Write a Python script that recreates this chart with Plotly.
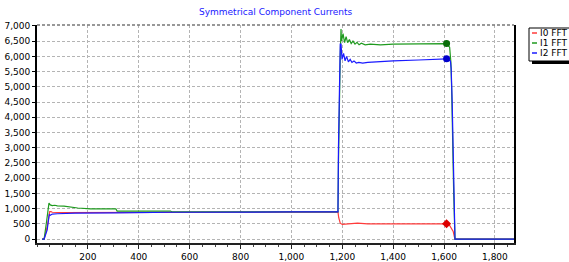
import plotly.graph_objects as go

# ---------------- data ----------------
series_names = ["I0 FFT", "I1 FFT", "I2 FFT"]

i0_x = [20, 28, 40, 45, 50, 55, 60, 100, 200, 300, 540, 1000, 1183, 1186, 1188, 1192, 1200,
        1230, 1260, 1300, 1400, 1500, 1610, 1622, 1630, 1636, 1640, 1643, 1875]
i0_y = [0, 0, 400, 700, 900, 900, 880, 870, 870, 870, 880, 890, 890, 700, 600, 520, 480,
        510, 520, 500, 500, 500, 500, 450, 350, 250, 100, 0, 0]

i1_x = [20, 28, 38, 44, 47, 52, 60, 70, 80, 106, 130, 160, 210, 310, 315, 525, 530, 1000,
        1183, 1185, 1188, 1192, 1195, 1197, 1203, 1209, 1215, 1221, 1228, 1235, 1242,
        1250, 1258, 1266, 1275, 1290, 1310, 1350, 1400, 1450, 1500, 1610, 1622, 1627,
        1630, 1633, 1638, 1643, 1875]
i1_y = [0, 0, 600, 1000, 1180, 1120, 1100, 1110, 1090, 1080, 1050, 1020, 990, 990, 920,
        920, 890, 890, 890, 2500, 4500, 6000, 6900, 6500, 6750, 6450, 6650, 6450, 6550,
        6420, 6500, 6400, 6460, 6380, 6430, 6380, 6400, 6380, 6400, 6400, 6420, 6420,
        6300, 5800, 4900, 3000, 1500, 0, 0]

i2_x = [20, 28, 40, 44, 48, 52, 60, 80, 100, 150, 300, 540, 1000, 1183, 1185, 1188, 1192,
        1195, 1199, 1205, 1211, 1217, 1224, 1231, 1238, 1246, 1255, 1265, 1280, 1300,
        1330, 1400, 1500, 1610, 1625, 1628, 1632, 1636, 1640, 1643, 1875]
i2_y = [0, 0, 300, 600, 800, 780, 820, 830, 840, 850, 860, 880, 890, 890, 3000, 5500,
        6400, 6400, 5900, 6100, 5850, 6000, 5820, 5900, 5800, 5850, 5780, 5800, 5780,
        5800, 5820, 5850, 5880, 5920, 5850, 5600, 4500, 3000, 1200, 0, 0]

marker_x = [1610]
marker_y = {"I0 FFT": [500], "I1 FFT": [6420], "I2 FFT": [5920]}

y_ticks = list(range(0, 7001, 500))
x_ticks = list(range(200, 1801, 200))

# ---------------- styling ----------------
line_colors = {"I0 FFT": "#ff3b3b", "I1 FFT": "#1f9a1f", "I2 FFT": "#1a1aff"}
marker_colors = {"I0 FFT": "#dd0000", "I1 FFT": "#0b6e0b", "I2 FFT": "#0000cc"}
marker_symbols = {"I0 FFT": "diamond", "I1 FFT": "circle", "I2 FFT": "circle"}
FONT = "DejaVu Sans"

fig = go.Figure()
for name, xs, ys in [("I0 FFT", i0_x, i0_y), ("I1 FFT", i1_x, i1_y), ("I2 FFT", i2_x, i2_y)]:
    fig.add_trace(go.Scatter(x=xs, y=ys, mode="lines", name=name,
                             line=dict(color=line_colors[name], width=1.2),
                             showlegend=False, hoverinfo="skip"))
for name in series_names:
    fig.add_trace(go.Scatter(x=marker_x, y=marker_y[name], mode="markers",
                             marker=dict(color=marker_colors[name], size=7,
                                         symbol=marker_symbols[name],
                                         line=dict(width=0)),
                             showlegend=False, hoverinfo="skip"))

W, H = 569, 262
L, R, T, B = 37, 55, 25, 19

fig.update_layout(
    width=W, height=H,
    margin=dict(l=L, r=R, t=T, b=B, autoexpand=False),
    paper_bgcolor="white", plot_bgcolor="white",
    font=dict(family=FONT, size=9, color="#000000"),
    showlegend=False,
    xaxis=dict(range=[0, 1875], tickvals=x_ticks, tickformat=",d", automargin=False,
               showgrid=True, gridcolor="#b4b4b4", griddash="3px,2px", gridwidth=1,
               showline=True, linecolor="#222222", linewidth=2,
               ticks="outside", ticklen=4, tickcolor="#222222",
               minor=dict(dtick=50, tick0=0, ticks="outside", ticklen=2,
                          tickcolor="#444444", showgrid=False),
               zeroline=False, fixedrange=True),
    yaxis=dict(range=[-130, 7030], tickvals=y_ticks, tickformat=",d", automargin=False,
               showgrid=True, gridcolor="#b4b4b4", griddash="3px,2px", gridwidth=1,
               showline=True, linecolor="#000000", linewidth=2, mirror=True,
               ticks="outside", ticklen=3, tickcolor="#000000",
               zeroline=False, fixedrange=True),
)

pw = W - L - R
ph = H - T - B
def px2x(px):
    return (px - L) / pw
def py2y(py):
    return (H - B - py) / ph

# title
fig.add_annotation(text="Symmetrical Component Currents", xref="paper", yref="paper",
                   x=0.5, y=py2y(12), xanchor="center", yanchor="middle", showarrow=False,
                   font=dict(family=FONT, size=9, color="#2020ff"))

# top border (dashed, darker)
fig.add_shape(type="line", xref="paper", yref="paper", x0=0, x1=1, y0=1, y1=1,
              line=dict(color="#777777", width=1.5, dash="3px,2px"))

# manual legend box with shadow
bx0, bx1, by0, by1 = 529, 575, 28, 61
fig.add_shape(type="rect", xref="paper", yref="paper",
              x0=px2x(bx0 + 3), x1=px2x(bx1 + 3), y0=py2y(by1 + 3), y1=py2y(by0 + 3),
              fillcolor="#000000", line=dict(width=0), layer="above")
fig.add_shape(type="rect", xref="paper", yref="paper",
              x0=px2x(bx0), x1=px2x(bx1), y0=py2y(by1), y1=py2y(by0),
              fillcolor="white", line=dict(color="#000000", width=1), layer="above")
for i, name in enumerate(series_names):
    cy = 33 + i * 10
    fig.add_shape(type="line", xref="paper", yref="paper",
                  x0=px2x(532), x1=px2x(537), y0=py2y(cy), y1=py2y(cy),
                  line=dict(color=line_colors[name], width=1.5), layer="above")
    fig.add_annotation(text=name, xref="paper", yref="paper",
                       x=px2x(538), y=py2y(cy), xanchor="left", yanchor="middle",
                       showarrow=False, font=dict(family=FONT, size=9, color="#000000"))

fig.write_html("out.html", config={"displayModeBar": False},
               post_script="document.body.style.margin='0';document.body.style.overflow='hidden';")
